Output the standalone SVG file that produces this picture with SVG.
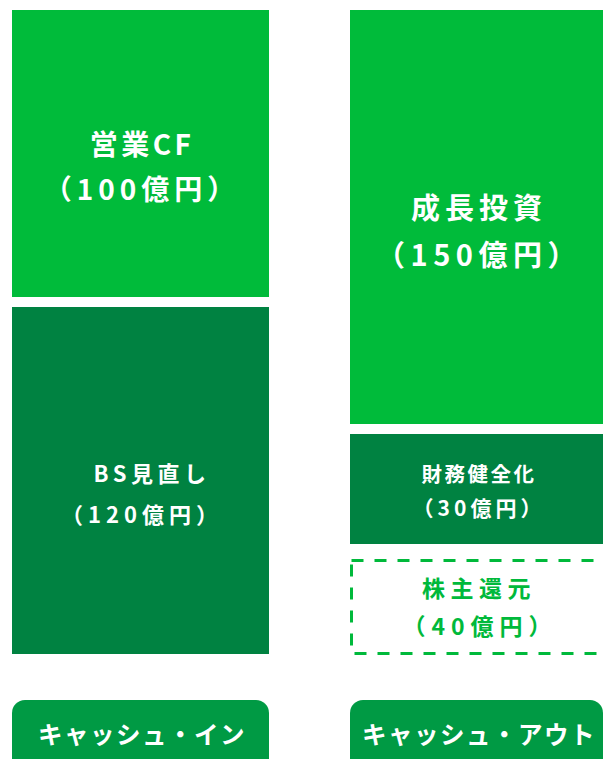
<svg xmlns="http://www.w3.org/2000/svg" width="603" height="759" viewBox="0 0 603 759">
<style>
text{font-family:"Noto Sans CJK JP","Noto Sans",sans-serif;font-weight:bold;text-anchor:middle;dominant-baseline:central}
.w{fill:#ffffff}
.g{fill:#00b93b}
.bright{fill:#00bb3a}
.dark{fill:#008241}
.pill{fill:#009a44}
</style>
<rect width="603" height="759" fill="#ffffff"/>
<g id="eigyo-cf">
<rect class="bright" x="12" y="10" width="257" height="287"/>
<text class="w" x="142" y="143" font-size="28" letter-spacing="3.5">営業CF</text>
<text class="w" x="142" y="188" font-size="28" letter-spacing="5">（100億円）</text>
</g>
<g id="bs-minaoshi">
<rect class="dark" x="12" y="307" width="257" height="347"/>
<text class="w" x="152" y="472" font-size="22" letter-spacing="4.5">BS見直し</text>
<text class="w" x="142" y="513" font-size="22" letter-spacing="5">（120億円）</text>
</g>
<g id="seicho-toshi">
<rect class="bright" x="350" y="10" width="253" height="414"/>
<text class="w" x="479" y="206" font-size="29" letter-spacing="5">成長投資</text>
<text class="w" x="479" y="253" font-size="29" letter-spacing="5.5">（150億円）</text>
</g>
<g id="zaimu">
<rect class="dark" x="350" y="434" width="253" height="110"/>
<text class="w" x="479" y="473" font-size="20.5" letter-spacing="2.5">財務健全化</text>
<text class="w" x="479" y="507" font-size="21" letter-spacing="4">（30億円）</text>
</g>
<g id="kabunushi">
<rect x="351.5" y="560.5" width="260" height="93" fill="none" stroke="#00b93b" stroke-width="3" stroke-dasharray="12 11"/>
<text class="g" x="479" y="587" font-size="23" letter-spacing="5.5">株主還元</text>
<text class="g" x="480" y="625" font-size="23" letter-spacing="6">（40億円）</text>
</g>
<g id="cash-in">
<rect class="pill" x="12" y="700" width="257" height="72" rx="13"/>
<text class="w" x="142" y="733" font-size="24.5" letter-spacing="1.5">キャッシュ・イン</text>
</g>
<g id="cash-out">
<rect class="pill" x="350" y="700" width="253" height="72" rx="13"/>
<text class="w" x="479" y="733" font-size="24.5" letter-spacing="1.5">キャッシュ・アウト</text>
</g>
<g id="connectors"></g>
</svg>
